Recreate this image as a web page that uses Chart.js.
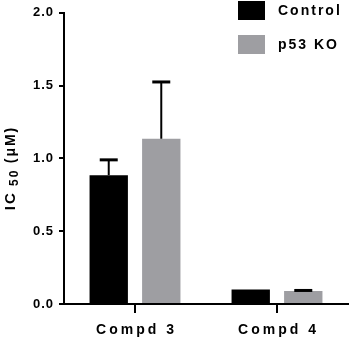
<!DOCTYPE html>
<html>
<head>
    <title>IC50 chart</title>
    <style>
        body { margin: 0; padding: 0; background: #ffffff; }
        #wrap { width: 350px; height: 346px; }
    </style>
    <script src="https://cdn.jsdelivr.net/npm/chart.js"></script>
</head>
<body>
    <div id="wrap"><canvas id="ic50Chart" width="350" height="346"></canvas></div>

    <script>
        // data
        const categories = ['Compd 3', 'Compd 4'];
        const seriesNames = ['Control', 'p53 KO'];
        const controlValues = [0.885, 0.10];
        const controlErrors = [0.105, 0.0];
        const koValues = [1.135, 0.09];
        const koErrors = [0.39, 0.003];
        const yTicks = [0, 0.5, 1.0, 1.5, 2.0];

        const seriesColors = ['#000000', '#9e9ea2'];
        const FONT = '"Liberation Sans", Arial, sans-serif';

        // error bars, only the upper half like in the original
        const errorBars = {
            id: 'errorBars',
            afterDatasetsDraw(chart) {
                const ctx = chart.ctx;
                const yScale = chart.scales.y;
                const errs = [controlErrors, koErrors];
                ctx.save();
                ctx.strokeStyle = '#000';
                chart.data.datasets.forEach((ds, i) => {
                    const meta = chart.getDatasetMeta(i);
                    meta.data.forEach((bar, j) => {
                        const err = errs[i][j];
                        if (!err) return;
                        const top = yScale.getPixelForValue(ds.data[j] + err);
                        ctx.lineWidth = 2;
                        ctx.beginPath();
                        ctx.moveTo(bar.x, bar.y);
                        ctx.lineTo(bar.x, top);
                        ctx.stroke();
                        ctx.lineWidth = 3;
                        ctx.beginPath();
                        ctx.moveTo(bar.x - 9, top);
                        ctx.lineTo(bar.x + 9, top);
                        ctx.stroke();
                    });
                });
                ctx.restore();
            }
        };

        // letter spaced text for y tick labels
        const spacing = {
            id: 'spacing',
            beforeDraw(chart) {
                chart.ctx.letterSpacing = '1px';
            }
        };

        // x labels, legend and y title drawn by hand (letter spacing + subscript)
        const extras = {
            id: 'extras',
            afterDraw(chart) {
                const ctx = chart.ctx;
                const xScale = chart.scales.x;
                ctx.save();
                ctx.fillStyle = '#000';

                // category labels
                ctx.letterSpacing = '3px';
                ctx.font = 'bold 14px ' + FONT;
                ctx.textAlign = 'center';
                ctx.textBaseline = 'middle';
                categories.forEach((c, i) => {
                    ctx.fillText(c, xScale.getPixelForValue(i) + 1.5, 330);
                });

                // legend
                ctx.letterSpacing = '2px';
                ctx.textAlign = 'left';
                seriesNames.forEach((name, i) => {
                    const y = 1 + i * 34;
                    ctx.fillStyle = seriesColors[i];
                    ctx.fillRect(238, y, 27, 19);
                    ctx.fillStyle = '#000';
                    ctx.fillText(name, 278, y + 10);
                });

                // y title: IC 50 (μM)
                ctx.translate(11, 168);
                ctx.rotate(-Math.PI / 2);
                ctx.letterSpacing = '2px';
                const parts = [
                    { t: 'IC', f: 'bold 15px ' + FONT, dy: 0 },
                    { t: ' 50 ', f: 'bold 12px ' + FONT, dy: 4 },
                    { t: '(μM)', f: 'bold 14px ' + FONT, dy: 0 }
                ];
                let total = 0;
                parts.forEach(p => { ctx.font = p.f; p.w = ctx.measureText(p.t).width; total += p.w; });
                let x = -total / 2;
                parts.forEach(p => {
                    ctx.font = p.f;
                    ctx.fillText(p.t, x, p.dy);
                    x += p.w;
                });
                ctx.restore();
            }
        };

        new Chart(document.getElementById('ic50Chart'), {
            type: 'bar',
            data: {
                labels: categories,
                datasets: [
                    { label: seriesNames[0], data: controlValues, backgroundColor: seriesColors[0] },
                    { label: seriesNames[1], data: koValues, backgroundColor: seriesColors[1] }
                ]
            },
            options: {
                responsive: false,
                animation: false,
                devicePixelRatio: 1,
                layout: { padding: { top: 8, right: 2, left: 0, bottom: 0 } },
                datasets: {
                    bar: { categoryPercentage: 0.74, barPercentage: 0.73 }
                },
                plugins: {
                    legend: { display: false },
                    tooltip: { enabled: false }
                },
                scales: {
                    x: {
                        offset: true,
                        afterFit(scale) { scale.height = 42; },
                        grid: {
                            offset: false,
                            drawOnChartArea: false,
                            drawTicks: true,
                            tickLength: 9,
                            color: '#000',
                            lineWidth: 2
                        },
                        border: { display: true, color: '#000', width: 2 },
                        ticks: { display: false }
                    },
                    y: {
                        min: 0,
                        max: 2,
                        afterFit(scale) { scale.width = 64; },
                        afterBuildTicks(scale) {
                            scale.ticks = yTicks.map(v => ({ value: v }));
                        },
                        grid: {
                            drawOnChartArea: false,
                            drawTicks: true,
                            tickLength: 5,
                            color: '#000',
                            lineWidth: 2
                        },
                        border: { display: true, color: '#000', width: 2 },
                        ticks: {
                            padding: 5,
                            color: '#000',
                            font: { family: FONT, size: 13, weight: 'bold' },
                            callback: v => v.toFixed(1)
                        },
                        title: { display: false }
                    }
                }
            },
            plugins: [spacing, errorBars, extras]
        });
    </script>
</body>
</html>
